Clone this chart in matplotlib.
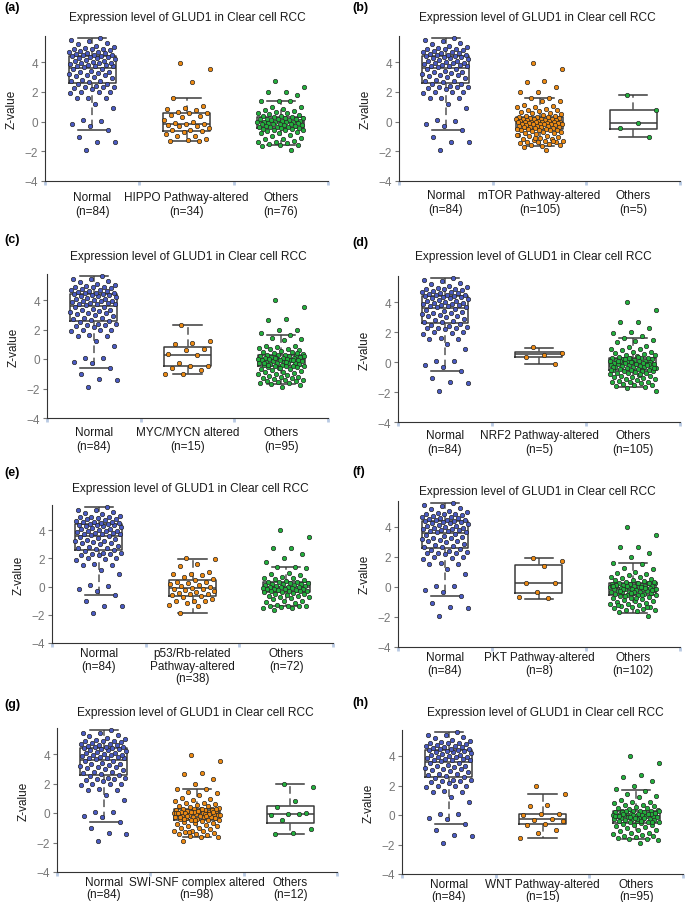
import matplotlib.pyplot as plt
import numpy as np

plt.rcParams['font.family'] = ['Liberation Sans', 'DejaVu Sans']

# ---- data (Z-values) ----
# box stats are [whislo, q1, median, q3, whishi]
normal = [-1.9, -1.4, -1.35, -1.05, -0.6, -0.3, -0.2, 0.05, 0.1, 0.9, 1.2, 1.55, 1.55, 1.6, 1.9, 1.95, 2.0, 2.0,
          2.2, 2.25, 2.3, 2.3, 2.35, 2.4, 2.5, 2.55,
          2.65, 2.7, 2.75, 2.8, 2.9, 3.0, 3.05, 3.1, 3.15, 3.2, 3.25, 3.3, 3.35, 3.4, 3.5, 3.55,
          3.65, 3.7, 3.72, 3.75, 3.8, 3.82, 3.85, 3.9, 3.92, 3.95, 4.0, 4.05, 4.1, 4.15, 4.2, 4.25, 4.3, 4.32,
          4.35, 4.38, 4.4,
          4.45, 4.5, 4.5, 4.55, 4.6, 4.6, 4.65, 4.7, 4.75, 4.8, 4.85, 4.9, 4.9, 4.95, 5.0, 5.1, 5.2, 5.3, 5.4,
          5.45, 5.6]
normal_box = [-0.6, 2.6, 3.6, 4.4, 5.6]

hippo = [3.95, 3.5, 2.65, 1.6, 1.05, 0.9, 0.85, 0.75, 0.65, 0.6, 0.55, 0.45, 0.35, 0.3, 0.1, 0.0, -0.1, -0.15,
         -0.2, -0.25, -0.3, -0.3, -0.45, -0.55, -0.6, -0.65, -0.7, -0.85, -0.95, -1.0, -1.2, -1.25, -1.3, -1.3]
hippo_box = [-1.3, -0.65, -0.2, 0.55, 1.6]
others_a = [2.7, 2.3, 2.0, 1.95, 1.75, 1.4, 1.4, 1.35, 1.0, 1.0, 0.85, 0.8, 0.7, 0.65, 0.6, 0.55, 0.5, 0.45,
            0.4, 0.35, 0.3, 0.3, 0.25, 0.25, 0.2, 0.2, 0.15, 0.15, 0.1, 0.1, 0.05, 0.05, 0.0, 0.0, 0.0, -0.05,
            -0.05, -0.1, -0.1, -0.15, -0.15, -0.2, -0.2, -0.25, -0.25, -0.3, -0.3, -0.35, -0.35, -0.4, -0.4,
            -0.45, -0.45, -0.5, -0.5, -0.55, -0.6, -0.6, -0.65, -0.7, -0.75, -0.8, -0.9, -1.0, -1.1, -1.15,
            -1.2, -1.3, -1.35, -1.4, -1.45, -1.5, -1.55, -1.6, -1.65, -1.9]
others_a_box = [-1.55, -0.45, 0.0, 0.3, 1.4]

mtor = [3.95, 3.5, 2.7, 2.65, 2.3, 2.0, 1.95, 1.6, 1.6, 1.4, 1.35, 1.1, 1.05, 1.0, 0.95, 0.85, 0.8, 0.75, 0.7,
        0.65, 0.6, 0.55, 0.5, 0.45, 0.4, 0.35, 0.3, 0.3, 0.3, 0.25, 0.25, 0.2, 0.2, 0.2, 0.15, 0.15, 0.1, 0.1,
        0.1, 0.05, 0.05, 0.05, 0.0, 0.0, 0.0, 0.0, -0.05, -0.05, -0.05, -0.1, -0.1, -0.1, -0.15, -0.15, -0.15,
        -0.2, -0.2, -0.2, -0.25, -0.25, -0.3, -0.3, -0.3, -0.35, -0.35, -0.4, -0.4, -0.45, -0.45, -0.5, -0.5,
        -0.5, -0.55, -0.55, -0.6, -0.6, -0.65, -0.7, -0.7, -0.75, -0.8, -0.85, -0.9, -0.95, -1.0, -1.05, -1.1,
        -1.15, -1.2, -1.25, -1.3, -1.3, -1.35, -1.4, -1.4, -1.45, -1.5, -1.55, -1.6, -1.65, -1.7, -1.3, -1.1,
        -0.9, -1.9]
mtor_box = [-1.65, -0.5, 0.0, 0.3, 1.6]
others_b = [1.75, 0.8, -0.1, -0.45, -1.05]
others_b_box = [-1.05, -0.5, -0.1, 0.8, 1.75]

myc = [2.3, 1.2, 1.1, 1.0, 0.65, 0.6, 0.35, 0.25, -0.3, -0.45, -0.5, -0.6, -0.75, -1.0, -1.0]
myc_box = [-1.0, -0.45, 0.25, 0.8, 2.3]
others_c = [4.0, 3.5, 2.7, 2.65, 2.0, 1.95, 1.75, 1.6, 1.4, 1.35, 1.3, 0.9, 0.85, 0.8, 0.75, 0.7, 0.65, 0.6,
            0.55, 0.5, 0.45, 0.4, 0.35, 0.3, 0.3, 0.25, 0.25, 0.2, 0.2, 0.15, 0.15, 0.1, 0.1, 0.05, 0.05, 0.0,
            0.0, 0.0, -0.05, -0.05, -0.1, -0.1, -0.15, -0.15, -0.2, -0.2, -0.25, -0.25, -0.3, -0.3, -0.35,
            -0.35, -0.4, -0.4, -0.45, -0.45, -0.5, -0.5, -0.55, -0.55, -0.6, -0.65, -0.7, -0.75, -0.8, -0.85,
            -0.9, -0.95, -1.0, -1.05, -1.1, -1.15, -1.2, -1.25, -1.3, -1.3, -1.35, -1.4, -1.45, -1.5, -1.5,
            -1.55, -1.6, -1.65, -1.7, -1.75, -1.9, -0.3, -0.1, 0.1, 0.2, -0.2, -0.4, 0.4, -0.6]
others_c_box = [-1.7, -0.5, 0.0, 0.3, 1.6]

nrf2 = [1.0, 0.6, 0.5, 0.35, -0.1]
nrf2_box = [-0.1, 0.35, 0.55, 0.7, 0.95]
others_d = [4.0, 3.5, 2.7, 2.65, 2.3, 2.0, 1.95, 1.75, 1.6, 1.45, 1.4, 1.35, 1.1, 1.0, 0.9, 0.85, 0.8, 0.7,
            0.65, 0.6, 0.55, 0.5, 0.45, 0.4, 0.35, 0.3, 0.3, 0.25, 0.25, 0.2, 0.2, 0.15, 0.15, 0.1, 0.1, 0.05,
            0.05, 0.0, 0.0, 0.0, -0.05, -0.05, -0.05, -0.1, -0.1, -0.15, -0.15, -0.2, -0.2, -0.25, -0.25,
            -0.3, -0.3, -0.35, -0.35, -0.4, -0.4, -0.45, -0.45, -0.5, -0.5, -0.55, -0.55, -0.6, -0.6, -0.65,
            -0.7, -0.7, -0.75, -0.8, -0.85, -0.9, -0.95, -1.0, -1.0, -1.05, -1.1, -1.15, -1.2, -1.25, -1.3,
            -1.3, -1.35, -1.4, -1.45, -1.5, -1.55, -1.6, -1.65, -1.7, -1.9, 0.35, 0.1, -0.1, 0.0, -0.3, -0.6,
            0.2, -0.4, -0.15, 0.05, -0.2, 0.25, -0.5, -0.8]
others_d_box = [-1.65, -0.55, -0.05, 0.3, 1.6]

p53 = [2.0, 1.95, 1.6, 1.45, 1.05, 0.9, 0.85, 0.8, 0.7, 0.55, 0.45, 0.35, 0.3, 0.25, 0.15, 0.1, 0.05, 0.0,
       -0.1, -0.15, -0.2, -0.25, -0.3, -0.4, -0.45, -0.5, -0.55, -0.6, -0.7, -0.75, -0.9, -1.0, -1.0, -1.05,
       -1.2, -1.3, -1.35, -1.9]
p53_box = [-1.9, -0.65, -0.1, 0.45, 1.95]
others_e = [4.0, 3.5, 2.75, 2.7, 2.3, 2.0, 1.75, 1.4, 1.35, 1.3, 0.95, 0.85, 0.8, 0.7, 0.6, 0.6, 0.5, 0.45,
            0.4, 0.35, 0.3, 0.3, 0.25, 0.25, 0.2, 0.2, 0.15, 0.1, 0.1, 0.05, 0.05, 0.0, 0.0, -0.05, -0.05,
            -0.1, -0.1, -0.15, -0.15, -0.2, -0.2, -0.25, -0.25, -0.3, -0.3, -0.35, -0.35, -0.4, -0.4, -0.45,
            -0.5, -0.55, -0.6, -0.65, -0.7, -0.75, -0.75, -0.8, -0.9, -1.0, -1.0, -1.1, -1.2, -1.3, -1.35,
            -1.35, -1.4, -1.4, -1.45, -1.5, -1.55, -1.65]
others_e_box = [-1.4, -0.4, 0.0, 0.3, 1.35]

pkt = [1.95, 1.75, 1.4, 0.3, 0.3, -0.35, -0.65, -0.75]
pkt_box = [-0.8, -0.4, 0.3, 1.5, 1.95]
others_f = [4.0, 3.5, 2.7, 2.65, 2.3, 2.0, 1.6, 1.55, 1.3, 1.2, 1.0, 0.95, 0.85, 0.8, 0.7, 0.65, 0.6, 0.55,
            0.5, 0.45, 0.4, 0.35, 0.3, 0.3, 0.25, 0.25, 0.2, 0.2, 0.15, 0.15, 0.1, 0.1, 0.05, 0.05, 0.0, 0.0,
            0.0, -0.05, -0.05, -0.1, -0.1, -0.15, -0.15, -0.2, -0.2, -0.25, -0.25, -0.3, -0.3, -0.35, -0.35,
            -0.4, -0.4, -0.45, -0.45, -0.5, -0.5, -0.55, -0.6, -0.65, -0.7, -0.75, -0.8, -0.85, -0.9, -0.95,
            -1.0, -1.05, -1.1, -1.15, -1.2, -1.25, -1.3, -1.35, -1.4, -1.45, -1.5, -1.55, -1.6, -1.65, -1.9,
            0.2, 0.1, 0.0, -0.1, -0.2, -0.3, 0.15, -0.05, 0.05, -0.15, 0.25, -0.25, 0.3, -0.4, 0.1, -0.5,
            -0.6, 0.35, -0.7, -1.2, -1.3]
others_f_box = [-1.7, -0.5, -0.05, 0.3, 1.6]

swi = [3.95, 3.5, 2.7, 2.65, 2.3, 2.0, 1.6, 1.6, 1.4, 1.35, 1.2, 1.0, 0.95, 0.9, 0.8, 0.7, 0.65, 0.6, 0.55,
       0.5, 0.45, 0.4, 0.35, 0.3, 0.3, 0.25, 0.25, 0.2, 0.2, 0.15, 0.15, 0.1, 0.1, 0.05, 0.05, 0.0, 0.0, 0.0,
       -0.05, -0.05, -0.1, -0.1, -0.15, -0.15, -0.2, -0.2, -0.25, -0.25, -0.3, -0.3, -0.35, -0.35, -0.4,
       -0.4, -0.45, -0.5, -0.5, -0.55, -0.6, -0.65, -0.7, -0.75, -0.8, -0.85, -0.9, -1.0, -1.05, -1.1, -1.2,
       -1.25, -1.25, -1.3, -1.35, -1.4, -1.45, -1.5, -1.55, -1.6, -1.65, -1.9, 0.2, 0.1, 0.0, -0.1, -0.2,
       0.3, 0.15, -0.3, -0.05, 0.05, -0.15, 0.25, -0.4, 0.1, -0.5, 0.0, -0.2, -1.3]
swi_box = [-1.65, -0.5, 0.05, 0.3, 1.6]
others_g = [2.0, 1.75, 0.8, 0.4, 0.0, -0.05, -0.15, -0.05, -0.5, -1.1, -1.35, -1.4]
others_g_box = [-1.45, -0.65, -0.05, 0.5, 1.95]

wnt = [2.0, 1.4, 0.65, 0.6, 0.05, 0.05, 0.0, -0.3, -0.35, -0.4, -0.6, -0.65, -1.0, -1.25, -1.55]
wnt_box = [-1.55, -0.6, -0.3, 0.05, 1.4]
others_h = [4.0, 3.5, 2.7, 2.6, 2.3, 2.0, 1.75, 1.65, 1.4, 1.3, 1.2, 1.0, 0.9, 0.85, 0.8, 0.7, 0.65, 0.6,
            0.55, 0.5, 0.45, 0.4, 0.35, 0.3, 0.3, 0.25, 0.25, 0.2, 0.2, 0.15, 0.15, 0.1, 0.1, 0.05, 0.05, 0.0,
            0.0, 0.0, -0.05, -0.05, -0.1, -0.1, -0.15, -0.15, -0.2, -0.2, -0.25, -0.25, -0.3, -0.3, -0.35,
            -0.35, -0.4, -0.4, -0.45, -0.5, -0.5, -0.55, -0.6, -0.65, -0.7, -0.75, -0.8, -0.9, -1.0, -1.05,
            -1.1, -1.2, -1.25, -1.3, -1.35, -1.4, -1.45, -1.5, -1.55, -1.6, -1.65, -1.7, -1.9, 0.2, 0.1, 0.0,
            -0.1, -0.2, 0.3, 0.15, -0.3, -0.05, 0.05, -0.15, 0.25, -0.4, 0.1, -0.5, -0.2]
others_h_box = [-1.65, -0.55, -0.05, 0.3, 1.7]

panel_tags = ['(a)', '(b)', '(c)', '(d)', '(e)', '(f)', '(g)', '(h)']
panel_labels = [
    ['Normal\n(n=84)', 'HIPPO Pathway-altered\n(n=34)', 'Others\n(n=76)'],
    ['Normal\n(n=84)', 'mTOR Pathway-altered\n(n=105)', 'Others\n(n=5)'],
    ['Normal\n(n=84)', 'MYC/MYCN altered\n(n=15)', 'Others\n(n=95)'],
    ['Normal\n(n=84)', 'NRF2 Pathway-altered\n(n=5)', 'Others\n(n=105)'],
    ['Normal\n(n=84)', 'p53/Rb-related\nPathway-altered\n(n=38)', 'Others\n(n=72)'],
    ['Normal\n(n=84)', 'PKT Pathway-altered\n(n=8)', 'Others\n(n=102)'],
    ['Normal\n(n=84)', 'SWI-SNF complex altered\n(n=98)', 'Others\n(n=12)'],
    ['Normal\n(n=84)', 'WNT Pathway-altered\n(n=15)', 'Others\n(n=95)'],
]
panel_values = [
    [normal, hippo, others_a], [normal, mtor, others_b],
    [normal, myc, others_c], [normal, nrf2, others_d],
    [normal, p53, others_e], [normal, pkt, others_f],
    [normal, swi, others_g], [normal, wnt, others_h],
]
panel_boxes = [
    [normal_box, hippo_box, others_a_box], [normal_box, mtor_box, others_b_box],
    [normal_box, myc_box, others_c_box], [normal_box, nrf2_box, others_d_box],
    [normal_box, p53_box, others_e_box], [normal_box, pkt_box, others_f_box],
    [normal_box, swi_box, others_g_box], [normal_box, wnt_box, others_h_box],
]
title = 'Expression level of GLUD1 in Clear cell RCC'
colors = ['#4a5bc4', '#ee8a12', '#22b03c']

# ---- layout in pixels: left, right, y(-4), y(4), tag xy, title xy, label pad, line spacing ----
W, H = 685, 903
layout = [
    (45, 328, 182, 63, (4, 8), (187, 18), 7, 1.25),
    (399, 680, 182, 63, (352, 8), (537, 18), 6, 1.2),
    (47, 328, 419, 301, (4, 240), (188, 257), 6, 1.2),
    (398, 680, 423, 303, (352, 243), (533, 257), 5, 1.2),
    (52, 333, 644, 531, (4, 473), (190, 489), 3, 1.05),
    (398, 680, 648, 528, (352, 472), (537, 492), 3, 1.1),
    (57, 337, 873, 755, (4, 705), (195, 713), 3, 1.0),
    (402, 683, 875, 757, (352, 703), (545, 713), 3, 1.0),
]
YTOP = 5.75


def jitter(n, width=0.25):
    # evenly spread horizontal offsets (golden-ratio sequence)
    return (((np.arange(n) * 0.618034 + 0.37) % 1.0) - 0.5) * 2 * width


fig = plt.figure(figsize=(W / 100, H / 100), dpi=100)

for i in range(8):
    left, right, ybot, y4, tag_xy, title_xy, lpad, lspace = layout[i]
    ppu = (ybot - y4) / 8.0
    ytop = y4 - (YTOP - 4) * ppu
    ax = fig.add_axes([left / W, 1 - ybot / H, (right - left) / W, (ybot - ytop) / H])

    stats = []
    for b in panel_boxes[i]:
        stats.append(dict(whislo=b[0], q1=b[1], med=b[2], q3=b[3], whishi=b[4], fliers=[]))
    ax.bxp(stats, positions=[1, 2, 3], widths=0.5, capwidths=0.3, showfliers=False,
           boxprops=dict(color='#3a3a3a', lw=1.1),
           whiskerprops=dict(color='#555555', lw=1.1, linestyle=(0, (5, 3))),
           capprops=dict(color='#3a3a3a', lw=1.1),
           medianprops=dict(color='#3a3a3a', lw=1.1), zorder=2)

    for k, vals in enumerate(panel_values[i]):
        x = k + 1 + jitter(len(vals))
        ax.scatter(x, vals, s=10, color=colors[k], edgecolor='#262626', linewidth=0.5, zorder=3)

    ax.set_xlim(0.5, 3.5)
    ax.set_ylim(-4, YTOP)
    for s in ['top', 'right']:
        ax.spines[s].set_visible(False)
    ax.spines['left'].set_color('#333333')
    ax.spines['bottom'].set_color('#333333')

    ax.set_xticks([0.5, 1.5, 2.5, 3.5])
    ax.set_xticklabels([])
    ax.tick_params(axis='x', which='major', length=3, width=2, color='#b9cae3')
    ax.set_xticks([1, 2, 3], minor=True)
    ax.set_xticklabels(panel_labels[i], minor=True, fontsize=8.5, color='#1a1a1a', linespacing=lspace)
    ax.tick_params(axis='x', which='minor', length=0, pad=lpad)

    ax.set_yticks([-4, -2, 0, 2, 4])
    ax.tick_params(axis='y', length=3, width=0.8, color='#777777', labelsize=8.5,
                   labelcolor='#777777', pad=2)
    ax.set_ylabel('Z-value', fontsize=8.5, color='#1a1a1a')
    ax.yaxis.set_label_coords(-27.0 / (right - left), 0.5)

    fig.text(tag_xy[0] / W, 1 - tag_xy[1] / H, panel_tags[i], fontsize=9, fontweight='bold',
             va='center', ha='left')
    fig.text(title_xy[0] / W, 1 - title_xy[1] / H, title, fontsize=8.6, color='#1a1a1a',
             va='center', ha='center')

fig.savefig('out.png', dpi=100)
